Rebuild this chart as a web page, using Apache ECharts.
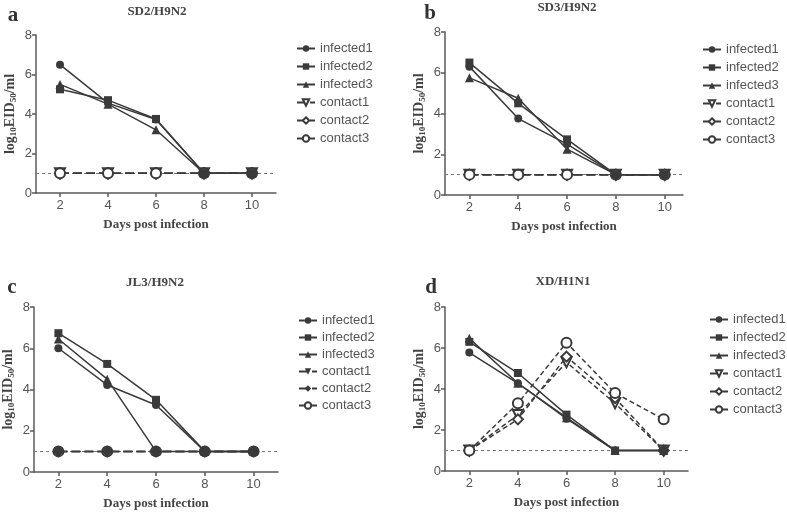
<!DOCTYPE html>
<html><head><meta charset="utf-8">
<script src="https://cdn.jsdelivr.net/npm/echarts@6/dist/echarts.min.js"></script>
<style>html,body{margin:0;padding:0;background:#fff}#c{width:787px;height:512px}</style>
</head><body><div id="c"></div>
<script>
// ---- data ----
const days = [2, 4, 6, 8, 10];
const seriesNames = ['infected1', 'infected2', 'infected3', 'contact1', 'contact2', 'contact3'];
const panelTitles = ['SD2/H9N2', 'SD3/H9N2', 'JL3/H9N2', 'XD/H1N1'];
const panelLetters = ['a', 'b', 'c', 'd'];
const yTicks = [0, 2, 4, 6, 8];
const xTicks = [2, 4, 6, 8, 10];
const detectionLimit = 1;

const a_infected1 = [6.5, 4.55, 3.72, 1, 1];
const a_infected2 = [5.25, 4.7, 3.75, 1, 1];
const a_infected3 = [5.5, 4.5, 3.2, 1, 1];
const a_contact1 = [1, 1, 1, 1, 1];
const a_contact2 = [1, 1, 1, 1, 1];
const a_contact3 = [1, 1, 1, 1, 1];

const b_infected1 = [6.3, 3.75, 2.5, 1, 1];
const b_infected2 = [6.5, 4.5, 2.73, 1, 1];
const b_infected3 = [5.75, 4.75, 2.25, 1, 1];
const b_contact1 = [1, 1, 1, 1, 1];
const b_contact2 = [1, 1, 1, 1, 1];
const b_contact3 = [1, 1, 1, 1, 1];

const c_infected1 = [6.0, 4.22, 3.25, 1, 1];
const c_infected2 = [6.73, 5.24, 3.5, 1, 1];
const c_infected3 = [6.45, 4.5, 1, 1, 1];
const c_contact1 = [1, 1, 1, 1, 1];
const c_contact2 = [1, 1, 1, 1, 1];
const c_contact3 = [1, 1, 1, 1, 1];

const d_infected1 = [5.78, 4.28, 2.55, 1, 1];
const d_infected2 = [6.3, 4.78, 2.75, 1, 1];
const d_infected3 = [6.47, 4.28, 2.6, 1, 1];
const d_contact1 = [1, 2.73, 5.3, 3.3, 1];
const d_contact2 = [1, 2.52, 5.58, 3.56, 1];
const d_contact3 = [1, 3.3, 6.26, 3.8, 2.52];

const panelData = [
  [a_infected1, a_infected2, a_infected3, a_contact1, a_contact2, a_contact3],
  [b_infected1, b_infected2, b_infected3, b_contact1, b_contact2, b_contact3],
  [c_infected1, c_infected2, c_infected3, c_contact1, c_contact2, c_contact3],
  [d_infected1, d_infected2, d_infected3, d_contact1, d_contact2, d_contact3]
];

// ---- layout / style ----
const grids = [
  {left: 36, top: 35, width: 240, height: 158, xmax: 11},
  {left: 445, top: 32, width: 238, height: 163, xmax: 10.75},
  {left: 33, top: 307, width: 245, height: 165, xmax: 11},
  {left: 445, top: 307, width: 243, height: 164, xmax: 11}
];
const legendPos = [
  {left: 291, top: 37, gap: 5},
  {left: 697, top: 38, gap: 5},
  {left: 293, top: 309, gap: 4},
  {left: 704, top: 308, gap: 5}
];
const titlePos = [
  {tx: 157, ty: 12, lx: 13, ly: 16},
  {tx: 567, ty: 8, lx: 430, ly: 14},
  {tx: 155, ty: 283, lx: 12, ly: 288},
  {tx: 563, ty: 282, lx: 431, ly: 288}
];
const DARK = '#3a3a3a';
const AXIS = '#5a5a5a';
const LABEL = '#555';
const serif = '"Liberation Serif", "DejaVu Serif", serif';
const sans = '"Liberation Sans", Arial, sans-serif';

const symbols = ['circle', 'rect', 'triangle', 'triangle', 'diamond', 'circle'];
const symRot = [0, 0, 0, 180, 0, 0];
const symSize = [8, 8, 9, 10, 10, 10];

const option = {
  animation: false,
  backgroundColor: '#fff',
  grid: [], xAxis: [], yAxis: [], series: [], legend: [], graphic: []
};

grids.forEach((g, p) => {
  option.grid.push({left: g.left, top: g.top, width: g.width, height: g.height, containLabel: false});
  option.xAxis.push({
    type: 'value', gridIndex: p, min: 1, max: g.xmax,
    axisLine: {show: true, onZero: false, lineStyle: {color: AXIS, width: 1.5}},
    axisTick: {show: true, length: 4, customValues: xTicks, lineStyle: {color: AXIS, width: 1.5}},
    axisLabel: {customValues: xTicks, fontSize: 13, color: LABEL, margin: 6, fontFamily: sans},
    splitLine: {show: false},
    name: 'Days post infection', nameLocation: 'middle', nameGap: 25,
    nameTextStyle: {fontFamily: serif, fontWeight: 'bold', fontSize: 13, color: '#444'}
  });
  option.yAxis.push({
    type: 'value', gridIndex: p, min: 0, max: 8, interval: 2,
    axisLine: {show: true, lineStyle: {color: AXIS, width: 1.5}},
    axisTick: {show: true, length: 4, lineStyle: {color: AXIS, width: 1.5}},
    axisLabel: {fontSize: 13, color: LABEL, margin: 4, fontFamily: sans},
    splitLine: {show: false},
    name: '{a|log}{s|10}{a|EID}{s|50}{a|/ml}', nameLocation: 'middle', nameRotate: 90, nameGap: 18,
    nameTextStyle: {
      rich: {
        a: {fontFamily: serif, fontWeight: 'bold', fontSize: 14, color: '#444', lineHeight: 16},
        s: {fontFamily: serif, fontWeight: 'bold', fontSize: 9, color: '#444', lineHeight: 9, verticalAlign: 'bottom'}
      }
    }
  });
  panelData[p].forEach((vals, k) => {
    const isContact = k >= 3;
    const filledContact = p === 2 && (k === 3 || k === 4);
    const openMarker = isContact && !filledContact;
    let size = symSize[k];
    if (p === 2 && k === 3) size = 8;
    if (p === 2 && k === 4) size = 12;
    const s = {
      type: 'line', name: seriesNames[k], xAxisIndex: p, yAxisIndex: p,
      data: days.map((d, i) => [d, vals[i]]),
      symbol: symbols[k], symbolRotate: symRot[k],
      symbolSize: size,
      z: isContact ? (p === 2 && k === 5 ? 1.5 : 2) : 3,
      lineStyle: {color: DARK, width: 1.5, type: isContact ? (p === 3 ? [5, 3] : [9, 4]) : 'solid'},
      itemStyle: openMarker ? {color: '#fff', borderColor: DARK, borderWidth: 2} : {color: DARK, borderColor: DARK, borderWidth: 0},
      emphasis: {disabled: true}
    };
    if (k === 0) {
      s.markLine = {
        silent: true, symbol: 'none', label: {show: false},
        lineStyle: {color: '#777', type: [3, 3], width: 1},
        data: [{yAxis: detectionLimit}], z: 1
      };
    }
    option.series.push(s);
  });
  const legendData = seriesNames.map((n, k) => {
    if (p === 2 && (k === 3 || k === 4)) return {name: n, itemStyle: {color: DARK, borderColor: DARK, borderWidth: 0}};
    return {name: n};
  });
  option.legend.push({
    data: legendData, orient: 'vertical', left: legendPos[p].left, top: legendPos[p].top,
    itemWidth: 18, itemHeight: 8, itemGap: legendPos[p].gap,
    textStyle: {fontSize: 13, color: LABEL, fontFamily: sans},
    selectedMode: false
  });
  const t = titlePos[p];
  option.graphic.push({
    type: 'text', silent: true,
    style: {x: t.tx, y: t.ty, text: panelTitles[p], textAlign: 'center', textVerticalAlign: 'middle',
      font: 'bold 13px ' + serif, fill: '#444'}
  });
  option.graphic.push({
    type: 'text', silent: true,
    style: {x: t.lx, y: t.ly, text: panelLetters[p], textAlign: 'center', textVerticalAlign: 'middle',
      font: 'bold 21px ' + serif, fill: '#333'}
  });
});

const chart = echarts.init(document.getElementById('c'), null, {renderer: 'canvas'});
chart.setOption(option);
</script>
</body></html>
